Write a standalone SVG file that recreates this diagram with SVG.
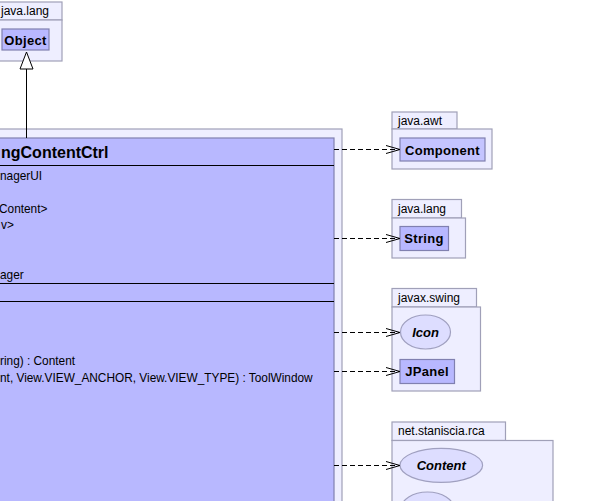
<svg xmlns="http://www.w3.org/2000/svg" width="598" height="501" viewBox="0 0 598 501">
<defs>
<style>
.pkg{fill:#eeeeff;stroke:#a0a0b8;stroke-width:1.2}
.cls{fill:#b8b8ff;stroke:#8080b0;stroke-width:1.2}
.ifc{fill:#ddddff;stroke:#a0a0c0;stroke-width:1.2}
.t{font-family:"Liberation Sans",Arial,sans-serif;font-size:12px;fill:#000}
.m{font-family:"Liberation Sans",Arial,sans-serif;font-size:11.85px;fill:#000}
.b{font-family:"Liberation Sans",Arial,sans-serif;font-size:13px;font-weight:bold;fill:#000;letter-spacing:0.3px}
.bi{font-family:"Liberation Sans",Arial,sans-serif;font-size:13px;font-weight:bold;font-style:italic;fill:#000}
.title{font-family:"Liberation Sans",Arial,sans-serif;font-size:16px;font-weight:bold;fill:#000}
.sep{stroke:#000;stroke-width:1.2}
.dep{stroke:#000;stroke-width:1;stroke-dasharray:5,3;fill:none}
.head{stroke:#000;stroke-width:1;fill:none}
</style>
</defs>

<g id="pkg-java-lang-top">
<rect class="pkg" x="-10" y="2" width="72" height="18"/>
<rect class="pkg" x="-10" y="20" width="72" height="41"/>
<text class="t" x="1" y="15">java.lang</text>
<g id="Object">
<rect class="cls" x="2" y="29" width="47" height="21"/>
<text class="b" x="25.5" y="45" text-anchor="middle">Object</text>
</g>
</g>

<g id="main">
<rect class="pkg" x="-10" y="129" width="352" height="390"/>
<rect class="cls" x="-10" y="138" width="344" height="380"/>
<text class="title" x="1" y="158">ngContentCtrl</text>
<line class="sep" x1="-10" y1="165.5" x2="334" y2="165.5"/>
<text class="m" x="0" y="180">nagerUI</text>
<text class="m" x="-1" y="213">Content&gt;</text>
<text class="m" x="1" y="229">v&gt;</text>
<text class="m" x="0" y="279">ager</text>
<line class="sep" x1="-10" y1="283.5" x2="334" y2="283.5"/>
<line class="sep" x1="-10" y1="301.5" x2="334" y2="301.5"/>
<text class="m" x="0" y="365">ring) : Content</text>
<text class="m" x="0" y="382">nt, View.VIEW_ANCHOR, View.VIEW_TYPE) : ToolWindow</text>
</g>

<g id="pkg-java-awt">
<rect class="pkg" x="392" y="112" width="65" height="17"/>
<rect class="pkg" x="392" y="129" width="100" height="40"/>
<text class="t" x="398" y="125">java.awt</text>
<g id="Component">
<rect class="cls" x="400" y="138" width="85" height="23" style="fill:#c4c4ff"/>
<text class="b" x="442.5" y="154.5" text-anchor="middle">Component</text>
</g>
</g>

<g id="pkg-java-lang">
<rect class="pkg" x="392" y="199.5" width="69.5" height="18.5"/>
<rect class="pkg" x="392" y="218" width="73.5" height="40"/>
<text class="t" x="398" y="213">java.lang</text>
<g id="String">
<rect class="cls" x="400" y="226.5" width="48.5" height="24"/>
<text class="b" x="424" y="243" text-anchor="middle">String</text>
</g>
</g>

<g id="pkg-javax-swing">
<rect class="pkg" x="392" y="288.5" width="84.5" height="18.5"/>
<rect class="pkg" x="392" y="307" width="88.5" height="84"/>
<text class="t" x="398" y="302">javax.swing</text>
<g id="Icon">
<ellipse class="ifc" cx="425.5" cy="332" rx="25" ry="17"/>
<text class="bi" x="425.5" y="336.5" text-anchor="middle">Icon</text>
</g>
<g id="JPanel">
<rect class="cls" x="400" y="359.5" width="54.5" height="24"/>
<text class="b" x="427" y="376" text-anchor="middle">JPanel</text>
</g>
</g>

<g id="pkg-net-staniscia-rca">
<rect class="pkg" x="392" y="422" width="113.5" height="18.5"/>
<rect class="pkg" x="392" y="440.5" width="161" height="90"/>
<text class="t" x="398" y="435">net.staniscia.rca</text>
<g id="Content">
<ellipse class="ifc" cx="441.3" cy="465.3" rx="41.3" ry="17"/>
<text class="bi" x="441.3" y="470" text-anchor="middle">Content</text>
</g>
<g id="Content2">
<ellipse class="ifc" cx="427.5" cy="509" rx="26.5" ry="17"/>
</g>
</g>

<g id="connectors">
<line class="head" x1="26.5" y1="69" x2="26.5" y2="138"/>
<polygon points="26.5,52 20,69 33,69" fill="#fff" stroke="#000" stroke-width="1"/>
<line class="dep" x1="334" y1="149.5" x2="399" y2="149.5"/>
<polyline class="head" points="386,145.5 400,149.5 386,153.5"/>
<line class="dep" x1="334" y1="238.5" x2="399" y2="238.5"/>
<polyline class="head" points="386,234.5 400,238.5 386,242.5"/>
<line class="dep" x1="334" y1="332.5" x2="399" y2="332.5"/>
<polyline class="head" points="386,328.5 400,332.5 386,336.5"/>
<line class="dep" x1="334" y1="371.5" x2="399" y2="371.5"/>
<polyline class="head" points="386,367.5 400,371.5 386,375.5"/>
<line class="dep" x1="334" y1="465.5" x2="399" y2="465.5"/>
<polyline class="head" points="386,461.5 400,465.5 386,469.5"/>
</g>
</svg>
